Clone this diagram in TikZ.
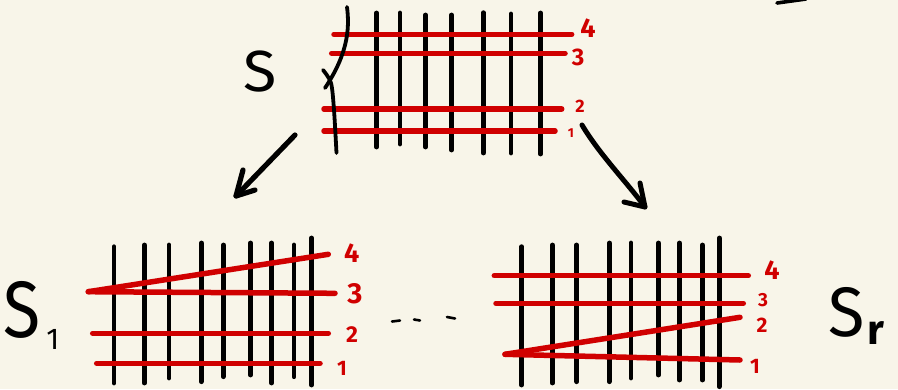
\documentclass[tikz,border=0pt]{standalone}
\usepackage{fontspec}
\setmainfont{Fira Sans}
\definecolor{paper}{HTML}{F8F5E9}
\definecolor{ink}{HTML}{000000}
\definecolor{wire}{HTML}{D00000}
\tikzset{
  bar/.style={ink, line width=4.8pt, line cap=round},
  strand/.style={wire, line width=5.5pt, line cap=round},
  pen/.style={ink, line width=4.2pt, line cap=round, line join=round},
  tag/.style={text=wire, inner sep=0pt, font=\fontsize{#1}{#1}\selectfont\bfseries},
  setname/.style={text=ink, inner sep=0pt, font=\fontsize{#1}{#1}\selectfont},
}
\begin{document}
\begin{tikzpicture}[x=1pt,y=-1pt]
  % paper
  \fill[paper] (0,0) rectangle (898,389);
  \useasboundingbox (0,0) rectangle (898,389);

  % ---------- top grid S ----------
  \foreach \x/\t/\b in {376.7/13/147, 400/13/144, 425.7/15/147, 451.7/15/150,
                        483.3/12.7/153, 511/14/153, 540.7/13/154}
    \draw[bar] (\x,\t) -- (\x,\b);
  \draw[strand] (334,34.3) -- (571.7,34.3);
  \draw[strand] (331.7,53.3) -- (565,53.3);
  \draw[strand] (324,109) -- (561.7,109);
  \draw[strand] (324,131) -- (555,131);
  % cut through the strands
  \draw[pen, line width=3.8pt] (347,7) .. controls (350,30) and (347,55) .. (325,88);
  \draw[pen, line width=3.8pt] plot[smooth] coordinates {(323,70) (331,83) (334,110) (336.5,153)};
  \node[tag=27] (t4) at (588,28) {4};
  \node[tag=24] (t3) at (578,57) {3};
  \node[tag=18] (t2) at (580,106) {2};
  \node[tag=13] (t1) at (571,133) {1};
  \node[setname=58] (S) at (260,72) {\scalebox{1.05}[1]{S}};

  % ---------- bottom left grid S1 ----------
  \foreach \x/\t/\b in {114/246.7/383, 144.3/245/383, 169/245/378, 201.3/243/381.7,
                        223.3/245/376.7, 250.7/243/375, 271.7/243/383, 294/245/376.7,
                        311.7/238/385}
    \draw[bar] (\x,\t) -- (\x,\b);
  \coordinate (l0) at (88.3,291.7);
  \draw[strand] (l0) -- (328.3,254.3);
  \draw[strand] (l0) -- (335,293.3);
  \draw[strand] (92.7,333.3) -- (328.3,333.3);
  \draw[strand] (96.7,363.3) -- (320,363.3);
  \node[tag=27] (a4) at (351.7,253) {4};
  \node[tag=29] (a3) at (355,294) {3};
  \node[tag=23] (a2) at (352,335) {2};
  \node[tag=21] (a1) at (342,368) {1};
  \node[setname=80, anchor=west] (S1) at (3,315)
    {\scalebox{0.85}[1]{S}\kern6pt\raisebox{-12pt}{\fontsize{30}{30}\selectfont 1}};

  % ---------- bottom right grid Sr ----------
  \foreach \x/\t/\b in {521.7/246.7/385, 552.3/245/383, 576.7/245/381.7, 609.3/243/381.7,
                        631/243/378, 658.3/243/375, 679.3/243/380, 702.3/245/380,
                        719.3/238/386.7}
    \draw[bar] (\x,\t) -- (\x,\b);
  \coordinate (r0) at (505,354.3);
  \draw[strand] (494.3,275.7) -- (748.3,275.7);
  \draw[strand] (496,303.3) -- (743.3,303.3);
  \draw[strand] (r0) -- (740,317.3);
  \draw[strand] (r0) -- (740,360);
  \node[tag=27] (b4) at (772,270) {4};
  \node[tag=19] (b3) at (763,300) {3};
  \node[tag=21] (b2) at (762,325) {2};
  \node[tag=21] (b1) at (755,366) {1};
  \node[setname=70, anchor=west] (Sr) at (828,316)
    {\scalebox{0.95}[1]{S}\kern3pt\raisebox{-8pt}{\fontsize{42}{42}\selectfont\bfseries r}};

  % ---------- ellipsis between the two ----------
  \draw[pen, line width=2.6pt] (392,321.5) -- (400,320.5);
  \draw[pen, line width=2.6pt] (414,319.5) -- (420,320.5);
  \draw[pen, line width=2.6pt] (447,317) -- (455,318.5);

  % ---------- arrows ----------
  \coordinate (la) at (295,135);
  \coordinate (lb) at (236,196);
  \draw[pen, line width=5.2pt] (la) -- (lb);
  \draw[pen, line width=5.2pt] (243,170) -- (lb) -- (255,190);
  \coordinate (ra) at (582,125);
  \coordinate (rb) at (645,207);
  \draw[pen, line width=5pt] (ra) .. controls (600,155) and (625,180) .. (rb);
  \draw[pen, line width=5pt] (640,183) -- (rb) -- (624,202);

  % stray stroke at the top edge
  \draw[pen, line width=3.6pt] (777,3) -- (806,-1);
\end{tikzpicture}
\end{document}
